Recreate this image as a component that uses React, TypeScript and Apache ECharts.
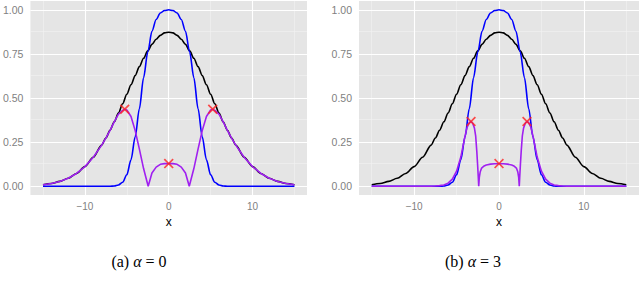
import React, { useEffect, useRef } from "react";
import * as echarts from "echarts";

// ---- axes ----
const xTicks = [-10, 0, 10];
const xMinor = [-15, -5, 5, 15];
const yTicks = [0, 0.25, 0.5, 0.75, 1];
const yMinor = [0.125, 0.375, 0.625, 0.875];

// ---- black curve (same in both panels) ----
const blackX = [-15, -14, -13, -12, -11, -10, -9, -8, -7.5, -7, -6.5, -6, -5.5, -5, -4.5, -4, -3.5, -3, -2.5, -2, -1.5, -1, -0.5, 0, 0.5, 1, 1.5, 2, 2.5, 3, 3.5, 4, 4.5, 5, 5.5, 6, 6.5, 7, 7.5, 8, 9, 10, 11, 12, 13, 14, 15];
const blackY = [0.008, 0.015, 0.027, 0.045, 0.072, 0.111, 0.164, 0.233, 0.273, 0.317, 0.365, 0.415, 0.467, 0.521, 0.575, 0.627, 0.678, 0.725, 0.767, 0.804, 0.833, 0.855, 0.869, 0.873, 0.869, 0.855, 0.833, 0.804, 0.767, 0.725, 0.678, 0.627, 0.575, 0.521, 0.467, 0.415, 0.365, 0.317, 0.273, 0.233, 0.164, 0.111, 0.072, 0.045, 0.027, 0.015, 0.008];

// ---- blue curve (same in both panels) ----
const blueX = [-15, -7.5, -7, -6.5, -6, -5.5, -5, -4.5, -4, -3.5, -3, -2.5, -2, -1.5, -1, -0.5, 0, 0.5, 1, 1.5, 2, 2.5, 3, 3.5, 4, 4.5, 5, 5.5, 6, 6.5, 7, 7.5, 15];
const blueY = [0, 0, 0, 0.001, 0.007, 0.022, 0.065, 0.15, 0.28, 0.44, 0.615, 0.76, 0.878, 0.945, 0.982, 0.996, 1, 0.996, 0.982, 0.945, 0.878, 0.76, 0.615, 0.44, 0.28, 0.15, 0.065, 0.022, 0.007, 0.001, 0, 0, 0];

// ---- purple curve, panel (a) alpha = 0 ----
const purpleAX = [-15, -14, -13, -12, -11, -10, -9, -8, -7.5, -7, -6.5, -6, -5.5, -5.25, -5, -4.5, -4, -3.5, -3, -2.45, -2, -1.5, -1, -0.5, 0, 0.5, 1, 1.5, 2, 2.45, 3, 3.5, 4, 4.5, 5, 5.25, 5.5, 6, 6.5, 7, 7.5, 8, 9, 10, 11, 12, 13, 14, 15];
const purpleAY = [0.008, 0.015, 0.027, 0.045, 0.072, 0.111, 0.164, 0.233, 0.273, 0.317, 0.364, 0.408, 0.43, 0.436, 0.432, 0.395, 0.315, 0.21, 0.1, 0, 0.075, 0.108, 0.124, 0.128, 0.128, 0.128, 0.124, 0.108, 0.075, 0, 0.1, 0.21, 0.315, 0.395, 0.432, 0.436, 0.43, 0.408, 0.364, 0.317, 0.273, 0.233, 0.164, 0.111, 0.072, 0.045, 0.027, 0.015, 0.008];

// ---- purple curve, panel (b) alpha = 3 ----
const purpleBX = [-15, -8, -7.5, -7, -6.5, -6, -5.5, -5, -4.5, -4, -3.75, -3.5, -3.3, -3.1, -2.9, -2.75, -2.62, -2.52, -2.44, -2.39, -2.32, -2.22, -2.05, -1.75, -1.5, -1, -0.5, 0, 0.5, 1, 1.5, 1.75, 2.05, 2.22, 2.32, 2.39, 2.44, 2.52, 2.62, 2.75, 2.9, 3.1, 3.3, 3.5, 3.75, 4, 4.5, 5, 5.5, 6, 6.5, 7, 7.5, 8, 15];
const purpleBY = [0, 0, 0.001, 0.003, 0.007, 0.017, 0.04, 0.085, 0.165, 0.285, 0.335, 0.36, 0.367, 0.357, 0.33, 0.285, 0.2, 0.12, 0.05, 0, 0.05, 0.08, 0.103, 0.115, 0.12, 0.125, 0.127, 0.127, 0.127, 0.125, 0.12, 0.115, 0.103, 0.08, 0.05, 0, 0.05, 0.12, 0.2, 0.285, 0.33, 0.357, 0.367, 0.36, 0.335, 0.285, 0.165, 0.085, 0.04, 0.017, 0.007, 0.003, 0.001, 0, 0];

// ---- red markers ----
const markAX = [-5.25, 0, 5.25];
const markAY = [0.436, 0.128, 0.436];
const markBX = [-3.3, 0, 3.3];
const markBY = [0.367, 0.128, 0.367];

const captions = ["(a)", "(b)"];
const alphas = ["0", "3"];

const pairs = (xs: number[], ys: number[]) => xs.map((x, i) => [x, ys[i]]);

const SANS = "Liberation Sans";
const SERIF = "Liberation Serif";
const XSHAPE =
  "path://M0,1.2L1.2,0L5,3.8L8.8,0L10,1.2L6.2,5L10,8.8L8.8,10L5,6.2L1.2,10L0,8.8L3.8,5Z";

function buildOption() {
  const lefts = [27, 359];
  const grids = lefts.map((l) => ({
    left: l,
    top: 1,
    width: 280,
    height: 194,
    show: true,
    backgroundColor: "#E5E5E5",
    borderWidth: 0,
  }));
  const xAxes = lefts.map((_, i) => ({
    type: "value",
    gridIndex: i,
    min: -16.5,
    max: 16.5,
    splitLine: { show: false },
    axisLine: { show: false },
    axisTick: {
      show: true,
      customValues: xTicks,
      length: 4,
      lineStyle: { color: "#7F7F7F", width: 1 },
    },
    axisLabel: {
      customValues: xTicks,
      color: "#7F7F7F",
      fontSize: 10,
      fontFamily: SANS,
      margin: 6,
      formatter: (v: number) => (v < 0 ? "\u2212" + Math.abs(v) : String(v)),
    },
    name: "x",
    nameLocation: "middle",
    nameGap: 17,
    nameTextStyle: { color: "#000", fontSize: 12, fontFamily: SANS },
  }));
  const yAxes = lefts.map((_, i) => ({
    type: "value",
    gridIndex: i,
    min: -0.05,
    max: 1.05,
    splitLine: { show: false },
    axisLine: { show: false },
    axisTick: {
      show: true,
      customValues: yTicks,
      length: 4,
      lineStyle: { color: "#7F7F7F", width: 1 },
    },
    axisLabel: {
      customValues: yTicks,
      color: "#7F7F7F",
      fontSize: 10.5,
      fontFamily: SANS,
      margin: 7,
      formatter: (v: number) => v.toFixed(2),
    },
  }));

  const series: any[] = [];
  const purples = [pairs(purpleAX, purpleAY), pairs(purpleBX, purpleBY)];
  const marks = [pairs(markAX, markAY), pairs(markBX, markBY)];

  lefts.forEach((_, i) => {
    // grid lines
    series.push({
      type: "line",
      xAxisIndex: i,
      yAxisIndex: i,
      data: [[0, -5]],
      showSymbol: false,
      silent: true,
      z: 1,
      lineStyle: { opacity: 0 },
      markLine: {
        silent: true,
        z: 1,
        symbol: ["none", "none"],
        label: { show: false },
        emphasis: { disabled: true },
        data: [
          ...xMinor.map((v) => ({ xAxis: v, lineStyle: { color: "#F2F2F2", width: 0.6, type: "solid" } })),
          ...yMinor.map((v) => ({ yAxis: v, lineStyle: { color: "#F2F2F2", width: 0.6, type: "solid" } })),
          ...xTicks.map((v) => ({ xAxis: v, lineStyle: { color: "#FFFFFF", width: 1.1, type: "solid" } })),
          ...yTicks.map((v) => ({ yAxis: v, lineStyle: { color: "#FFFFFF", width: 1.1, type: "solid" } })),
        ],
      },
    });
    series.push({
      type: "line",
      xAxisIndex: i,
      yAxisIndex: i,
      data: pairs(blackX, blackY),
      showSymbol: false,
      smooth: 0.3,
      smoothMonotone: "x",
      lineStyle: { color: "#000000", width: 1.6 },
      z: 3,
    });
    series.push({
      type: "line",
      xAxisIndex: i,
      yAxisIndex: i,
      data: pairs(blueX, blueY),
      showSymbol: false,
      smooth: 0.3,
      smoothMonotone: "x",
      lineStyle: { color: "#0000FF", width: 1.6 },
      z: 4,
    });
    series.push({
      type: "line",
      xAxisIndex: i,
      yAxisIndex: i,
      data: purples[i],
      showSymbol: false,
      lineStyle: { color: "#A020F0", width: 1.6 },
      z: 5,
    });
    series.push({
      type: "scatter",
      xAxisIndex: i,
      yAxisIndex: i,
      data: marks[i],
      symbol: XSHAPE,
      symbolSize: 10,
      itemStyle: { color: "#FF2020" },
      z: 6,
    });
  });

  const graphic = [139, 473].map((cx, i) => ({
    type: "text",
    x: cx,
    y: 261,
    style: {
      text: `{n|${captions[i]} }{i|α}{n| = ${alphas[i]}}`,
      textAlign: "center",
      textVerticalAlign: "middle",
      fontFamily: SERIF,
      fontSize: 16,
      fill: "#000",
      rich: {
        n: { fontFamily: SERIF, fontSize: 16, fill: "#000" },
        i: { fontFamily: SERIF, fontSize: 16, fontStyle: "italic", fill: "#000" },
      },
    },
  }));

  return {
    animation: false,
    backgroundColor: "#FFFFFF",
    grid: grids,
    xAxis: xAxes,
    yAxis: yAxes,
    series,
    graphic,
  };
}

export default function App() {
  const ref = useRef<HTMLDivElement>(null);
  useEffect(() => {
    if (!ref.current) return;
    const chart = echarts.init(ref.current, undefined, { renderer: "svg" });
    chart.setOption(buildOption() as any);
    return () => chart.dispose();
  }, []);
  return (
    <div
      ref={ref}
      style={{ position: "absolute", left: 0, top: 0, width: 640, height: 282, background: "#fff" }}
    />
  );
}
